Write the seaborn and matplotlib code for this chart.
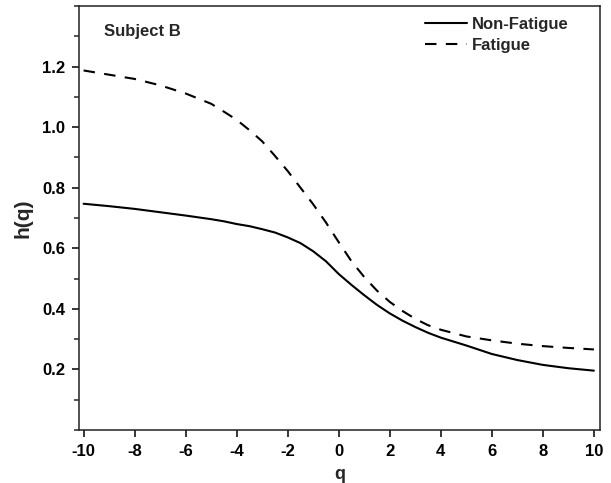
import numpy as np
import pandas as pd
import matplotlib
matplotlib.use("Agg")
import matplotlib.pyplot as plt
from matplotlib.ticker import MultipleLocator
import seaborn as sns

# q grid (finer in the middle where the curves bend)
q = [-10, -9, -8, -7, -6, -5, -4.5, -4, -3.5, -3, -2.5, -2, -1.5, -1, -0.5, 0,
     0.5, 1, 1.5, 2, 2.5, 3, 3.5, 4, 5, 6, 7, 8, 9, 10]

# h(q)
non_fatigue = [0.747, 0.739, 0.730, 0.719, 0.708, 0.696, 0.689, 0.680, 0.673, 0.663,
               0.652, 0.636, 0.617, 0.590, 0.557, 0.515, 0.479, 0.445, 0.413, 0.385,
               0.361, 0.340, 0.321, 0.305, 0.279, 0.251, 0.231, 0.215, 0.204, 0.196]
fatigue = [1.187, 1.173, 1.159, 1.138, 1.111, 1.077, 1.051, 1.024, 0.990, 0.953,
           0.905, 0.855, 0.800, 0.745, 0.685, 0.620, 0.557, 0.505, 0.460, 0.423,
           0.393, 0.367, 0.346, 0.331, 0.309, 0.296, 0.285, 0.277, 0.271, 0.266]

df = pd.DataFrame({"q": q, "Non-Fatigue": non_fatigue, "Fatigue": fatigue})

sns.set_style("ticks")
plt.rcParams['font.family'] = ['Liberation Sans', 'DejaVu Sans']
plt.rcParams['font.weight'] = 'bold'
plt.rcParams['axes.unicode_minus'] = False

fig = plt.figure(figsize=(6.11, 4.83), dpi=100)
ax = fig.add_axes([0.1293, 0.1097, 0.8527, 0.878])

sns.lineplot(data=df, x="q", y="Non-Fatigue", color="black", linewidth=1.5,
             label="Non-Fatigue", ax=ax)
sns.lineplot(data=df, x="q", y="Fatigue", color="black", linewidth=1.5,
             linestyle=(0, (5.5, 4.5)), label="Fatigue", ax=ax)

ax.set_xlim(-10.18, 10.24)
ax.set_ylim(0, 1.4)
ax.xaxis.set_major_locator(MultipleLocator(2))
ax.yaxis.set_minor_locator(MultipleLocator(0.1))
ax.set_yticks([0.2, 0.4, 0.6, 0.8, 1.0, 1.2])
ax.tick_params(axis='both', which='major', length=5, width=1.1, labelsize=12,
               colors='black', direction='out', pad=5)
ax.tick_params(axis='y', which='minor', length=3.5, width=1.1, direction='out')
for lab in ax.get_xticklabels() + ax.get_yticklabels():
    lab.set_fontweight('bold')

for s in ax.spines.values():
    s.set_visible(True)
    s.set_linewidth(1.1)
    s.set_color('#222222')

ax.set_xlabel("q", fontsize=13, fontweight='bold', labelpad=5)
ax.set_ylabel("h(q)", fontsize=15, fontweight='bold', labelpad=7)

ax.text(-9.2, 1.30, "Subject B", fontsize=12, fontweight='bold', ha='left', va='baseline')

leg = ax.legend(loc='upper left', bbox_to_anchor=(0.664, 0.975), frameon=False,
                fontsize=12, handlelength=2.5, handletextpad=0.3,
                labelspacing=0.4, borderpad=0, borderaxespad=0)
for t in leg.get_texts():
    t.set_fontweight('bold')

fig.savefig("out.png", dpi=100)
